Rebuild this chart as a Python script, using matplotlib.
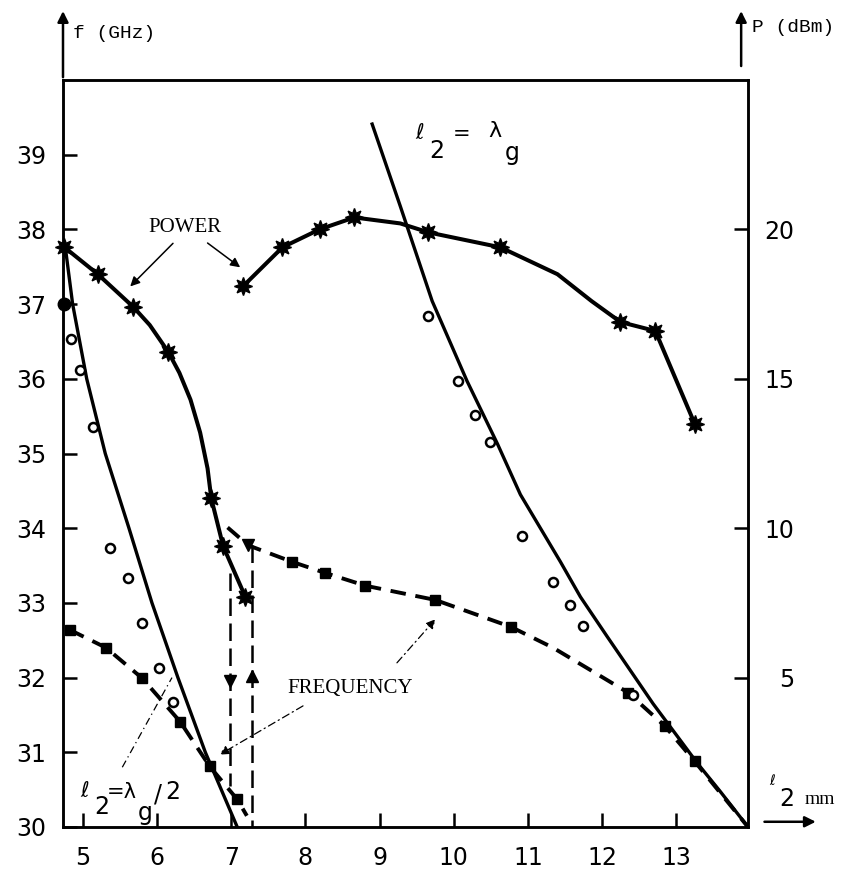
import numpy as np
import matplotlib
matplotlib.use("Agg")
import matplotlib.pyplot as plt

# ---------- data ----------
# power, right axis (dBm) -- marked points
pow1_x = [4.75, 5.20, 5.68, 6.15, 6.73, 6.89, 7.19]
pow1_p = [19.4, 18.5, 17.4, 15.9, 11.0, 9.4, 7.7]
pow2_x = [7.16, 7.69, 8.19, 8.66, 9.66, 10.63, 12.25, 12.72, 13.25]
pow2_p = [18.1, 19.4, 20.0, 20.4, 19.9, 19.4, 16.9, 16.6, 13.5]
# traced points of the drawn power curves (between the markers)
pow1_line_x = [4.75, 5.20, 5.68, 5.90, 6.15, 6.30, 6.45, 6.58, 6.68, 6.73, 6.89, 7.19]
pow1_line_p = [19.4, 18.5, 17.4, 16.8, 15.9, 15.2, 14.3, 13.2, 12.0, 11.0, 9.4, 7.7]
pow2_line_x = [7.16, 7.69, 8.19, 8.66, 9.28, 9.66, 10.63, 11.40, 11.86, 12.25, 12.72, 13.25]
pow2_line_p = [18.1, 19.4, 20.0, 20.4, 20.2, 19.9, 19.4, 18.5, 17.6, 16.9, 16.6, 13.5]

# frequency, left axis (GHz)
freq_lo_x = [4.82, 5.31, 5.80, 6.31, 6.71, 7.08]
freq_lo_f = [32.64, 32.40, 31.99, 31.41, 30.81, 30.37]
freq_lo_line_x = [4.82, 5.31, 5.80, 6.31, 6.71, 7.08, 7.21]
freq_lo_line_f = [32.64, 32.40, 31.99, 31.41, 30.81, 30.37, 30.15]
freq_hi_x = [7.82, 8.27, 8.81, 9.75, 10.77, 12.35, 12.85, 13.25]
freq_hi_f = [33.55, 33.40, 33.23, 33.04, 32.68, 31.80, 31.35, 30.88]
freq_hi_line_x = [6.95, 7.23, 7.82, 8.27, 8.81, 9.75, 10.77, 11.34, 11.88, 12.35, 12.85, 13.25, 13.97]
freq_hi_line_f = [34.01, 33.77, 33.55, 33.40, 33.23, 33.04, 32.68, 32.40, 32.08, 31.80, 31.35, 30.88, 30.0]
jump_x = [6.98, 7.28]            # hysteresis jumps
jump_top = [33.40, 33.77]
jump_bot = [30.55, 30.0]
jump_arrow_f = [31.95, 32.02]

# theory: l2 = lambda_g / 2 and l2 = lambda_g
half_x = [4.76, 4.86, 5.05, 5.30, 5.46, 5.62, 5.93, 6.28, 6.65, 7.08]
half_f = [37.77, 37.0, 36.0, 35.0, 34.5, 34.0, 33.0, 32.0, 31.0, 30.0]
full_x = [8.90, 9.28, 9.71, 10.18, 10.59, 10.90, 11.44, 11.71, 12.07, 12.69, 13.29, 13.60, 13.97]
full_f = [39.41, 38.31, 37.04, 35.97, 35.13, 34.45, 33.55, 33.08, 32.55, 31.65, 30.85, 30.47, 30.0]

# measured (open circles)
circ_x = [4.84, 4.96, 5.13, 5.36, 5.61, 5.80, 6.03, 6.21,
          9.66, 10.06, 10.29, 10.49, 10.92, 11.34, 11.57, 11.75, 12.42]
circ_f = [36.53, 36.12, 35.35, 33.73, 33.33, 32.73, 32.13, 31.67,
          36.84, 35.97, 35.52, 35.16, 33.89, 33.28, 32.97, 32.69, 31.77]
dot_x, dot_f = [4.75], [37.0]

x_ticks = [5, 6, 7, 8, 9, 10, 11, 12, 13]
f_ticks = [30, 31, 32, 33, 34, 35, 36, 37, 38, 39]
p_ticks = [5, 10, 15, 20]
p_labels = ["\u20075", "10", "15", "20"]

# ---------- figure ----------
W, H = 845, 876
fig = plt.figure(figsize=(W / 100, H / 100), dpi=100)
ax = fig.add_axes([63 / W, 49 / H, 685 / W, 747 / H])
ax.set_xlim(4.73, 13.97)
ax.set_ylim(30, 40)
ax2 = ax.twinx()
ax2.set_ylim(0, 25)

for a in (ax, ax2):
    for s in a.spines.values():
        s.set_linewidth(1.8)

K = "black"
star = (8, 1, 0)

# theory curves
ax.plot(half_x, half_f, color=K, lw=2.4, solid_joinstyle="round")
ax.plot(full_x, full_f, color=K, lw=2.4, solid_joinstyle="round")

# frequency
ax.plot(freq_lo_line_x, freq_lo_line_f, color=K, lw=2.8, dashes=(4, 2.5))
ax.plot(freq_lo_x, freq_lo_f, "s", color=K, ms=7)
ax.plot(freq_hi_line_x, freq_hi_line_f, color=K, lw=2.8, dashes=(4, 2.5))
ax.plot(freq_hi_x, freq_hi_f, "s", color=K, ms=7)
ax.plot(freq_hi_line_x[1], freq_hi_line_f[1], "v", color=K, ms=9)
for xj, t, b, fa, m in zip(jump_x, jump_top, jump_bot, jump_arrow_f, ["v", "^"]):
    ax.plot([xj, xj], [t, b], color=K, lw=1.8, dashes=(7, 3))
    ax.plot(xj, fa, m, color=K, ms=9)

# measured points
ax.plot(circ_x, circ_f, "o", mfc="white", mec=K, mew=1.8, ms=6.5, ls="none")
ax.plot(dot_x, dot_f, "o", color=K, ms=9, clip_on=False, zorder=5)

# power
ax2.plot(pow1_line_x, pow1_line_p, color=K, lw=2.9, solid_joinstyle="round")
ax2.plot(pow2_line_x, pow2_line_p, color=K, lw=2.9, solid_joinstyle="round")
ax2.plot(pow1_x, pow1_p, marker=star, color=K, ms=13, ls="none", clip_on=False)
ax2.plot(pow2_x, pow2_p, marker=star, color=K, ms=13, ls="none")

# ticks
ax.set_xticks(x_ticks)
ax.set_yticks(f_ticks)
ax2.set_yticks(p_ticks)
ax2.set_yticklabels(p_labels)
ax.tick_params(axis="both", direction="in", length=10, width=1.8, labelsize=17)
ax.tick_params(axis="x", pad=14)
ax.tick_params(axis="y", pad=12)
ax2.tick_params(axis="y", direction="in", length=10, width=1.8, labelsize=17, pad=12)

# pointer lines
arrow_kw = dict(arrowstyle="-|>", color=K, lw=1.1, mutation_scale=14)
ax.annotate("", xy=(5.61, 37.21), xytext=(6.24, 37.84), arrowprops=arrow_kw)
ax.annotate("", xy=(7.15, 37.47), xytext=(6.65, 37.84), arrowprops=arrow_kw)
dash_kw = dict(arrowstyle="-|>", color=K, lw=0.9, ls=(0, (6, 3, 1, 3)), mutation_scale=14)
ax.annotate("", xy=(6.81, 30.95), xytext=(8.0, 31.64), arrowprops=dash_kw)
ax.annotate("", xy=(9.78, 32.81), xytext=(9.21, 32.17), arrowprops=dash_kw)
ax.plot([5.53, 6.2], [30.8, 32.0], color=K, lw=0.9, ls=(0, (6, 3, 1, 3)))

# axis arrows
ak = dict(arrowstyle="-|>", color=K, lw=1.8, mutation_scale=16)
ax.annotate("", xy=(0, 1.096), xytext=(0, 1.0), xycoords="axes fraction",
            textcoords="axes fraction", arrowprops=ak)
ax.annotate("", xy=(0.99, 1.096), xytext=(0.99, 1.015), xycoords="axes fraction",
            textcoords="axes fraction", arrowprops=ak)
ax.annotate("", xy=(1.103, 0.007), xytext=(1.02, 0.007), xycoords="axes fraction",
            textcoords="axes fraction", arrowprops=ak)


def ft(x, y, s, **kw):
    fig.text(x / W, 1 - y / H, s, va="center", **kw)


serif = "Liberation Serif"
mono = "Liberation Mono"
ft(73, 33, "f (GHz)", family=mono, fontsize=14, ha="left")
ft(752, 28, "P (dBm)", family=mono, fontsize=14, ha="left")
ft(148, 227, "POWER", family=serif, fontsize=15, ha="left")
ft(287, 688, "FREQUENCY", family=serif, fontsize=15, ha="left")

# l2 = lambda_g
ft(420, 133, "\u2113", fontsize=15, ha="center")
ft(437, 151, "2", fontsize=17, ha="center")
ft(462, 134, "=", fontsize=15, ha="center")
ft(495, 131, "\u03bb", fontsize=16, ha="center")
ft(512, 153, "g", fontsize=17, ha="center")
# l2 = lambda_g / 2
ft(85, 791, "\u2113", fontsize=15, ha="center")
ft(102, 807, "2", fontsize=17, ha="center")
ft(122, 792, "=\u03bb", fontsize=15, ha="center")
ft(145, 813, "g", fontsize=17, ha="center")
ft(158, 794, "/", fontsize=17, ha="center")
ft(173, 792, "2", fontsize=17, ha="center")
# x label
ft(772, 781, "\u2113", fontsize=10, ha="center")
ft(787, 799, "2", fontsize=17, ha="center")
ft(820, 800, "mm", family=serif, fontsize=14, ha="center")

fig.savefig("out.png", dpi=100, facecolor="white")
